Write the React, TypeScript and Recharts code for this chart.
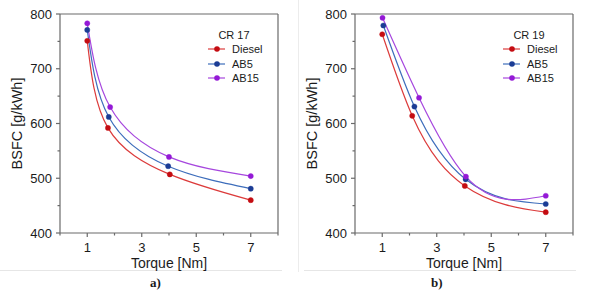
// BSFC vs torque at two compression ratios, side by side panels

import React from 'react';
import { Legend, Line, LineChart, ReferenceLine, XAxis, YAxis } from 'recharts';

const fuels = ['Diesel', 'AB5', 'AB15'];
const lineColors = ['#dc3b3b', '#3d6dbb', '#a647de'];
const dotColors = ['#c40c12', '#1b3c95', '#9419d6'];

// panel a) CR 17
const torqueA = [
  [1, 1.76, 4.03, 7],
  [1, 1.79, 3.97, 7],
  [1, 1.84, 4.0, 7],
];
const bsfcA = [
  [751, 592, 507, 460],
  [771, 612, 522, 481],
  [783, 630, 539, 504],
];

// panel b) CR 19
const torqueB = [
  [1, 2.1, 4.03, 7],
  [1.04, 2.18, 4.06, 7],
  [1.01, 2.35, 4.07, 7],
];
const bsfcB = [
  [763, 614, 486, 438],
  [779, 631, 498, 453],
  [793, 647, 503, 468],
];

const xTicks = [0, 1, 2, 3, 4, 5, 6, 7, 8];
const yTicks = [400, 450, 500, 550, 600, 650, 700, 750, 800];

const AXIS = '#6a6a6a';
const FONT = '"Liberation Sans", Arial, sans-serif';
const INK = '#1b1b1b';

// natural cubic spline of y over x (like the plotting program's "spline" connector)
function splineXY(context: any) {
  let xs: number[] = [];
  let ys: number[] = [];
  return {
    areaStart() {},
    areaEnd() {},
    lineStart() {
      xs = [];
      ys = [];
    },
    point(x: number, y: number) {
      xs.push(+x);
      ys.push(+y);
    },
    lineEnd() {
      const n = xs.length;
      if (!n) return;
      context.moveTo(xs[0], ys[0]);
      if (n < 3) {
        for (let i = 1; i < n; i++) context.lineTo(xs[i], ys[i]);
        return;
      }
      const h: number[] = [];
      for (let i = 0; i < n - 1; i++) h.push(xs[i + 1] - xs[i]);
      const a: number[] = [];
      const b: number[] = [];
      const c: number[] = [];
      const d: number[] = [];
      for (let i = 1; i < n - 1; i++) {
        a.push(h[i - 1]);
        b.push(2 * (h[i - 1] + h[i]));
        c.push(h[i]);
        d.push(6 * ((ys[i + 1] - ys[i]) / h[i] - (ys[i] - ys[i - 1]) / h[i - 1]));
      }
      const m = a.length;
      for (let i = 1; i < m; i++) {
        const w = a[i] / b[i - 1];
        b[i] -= w * c[i - 1];
        d[i] -= w * d[i - 1];
      }
      const sol = new Array(m).fill(0);
      sol[m - 1] = d[m - 1] / b[m - 1];
      for (let i = m - 2; i >= 0; i--) sol[i] = (d[i] - c[i] * sol[i + 1]) / b[i];
      const M = [0, ...sol, 0];
      for (let i = 0; i < n - 1; i++) {
        const s = (ys[i + 1] - ys[i]) / h[i];
        const d0 = s - (h[i] * (2 * M[i] + M[i + 1])) / 6;
        const d1 = s + (h[i] * (M[i] + 2 * M[i + 1])) / 6;
        context.bezierCurveTo(
          xs[i] + h[i] / 3,
          ys[i] + (d0 * h[i]) / 3,
          xs[i + 1] - h[i] / 3,
          ys[i + 1] - (d1 * h[i]) / 3,
          xs[i + 1],
          ys[i + 1],
        );
      }
    },
  };
}

function XTick({ x, y, payload }: any) {
  const major = payload.value % 2 === 1;
  return (
    <g>
      <line x1={x} x2={x} y1={y} y2={y + (major ? 4 : 2.5)} stroke={AXIS} strokeWidth={1.2} />
      {major && (
        <text x={x} y={y + 19} textAnchor="middle" fontSize={13} fontFamily={FONT} fill={INK}>
          {payload.value}
        </text>
      )}
    </g>
  );
}

function YTick({ x, y, payload }: any) {
  const major = payload.value % 100 === 0;
  return (
    <g>
      <line x1={x} x2={x - (major ? 4 : 2.5)} y1={y} y2={y} stroke={AXIS} strokeWidth={1.2} />
      {major && (
        <text x={x - 8} y={y + 4.6} textAnchor="end" fontSize={13} fontFamily={FONT} fill={INK}>
          {payload.value}
        </text>
      )}
    </g>
  );
}

function makeLegend(title: string) {
  return ({ payload }: any) => {
    const items = [...(payload ?? [])].sort(
      (p: any, q: any) => fuels.indexOf(p.value) - fuels.indexOf(q.value),
    );
    return (
      <div style={{ fontFamily: FONT, fontSize: 11, color: INK }}>
        <div style={{ width: 52, textAlign: 'center', lineHeight: '14px' }}>{title}</div>
        {items.map((p: any) => {
          const i = fuels.indexOf(p.value);
          return (
            <div key={p.value} style={{ display: 'flex', alignItems: 'center', height: 14.5 }}>
              <svg width={18} height={10} style={{ marginRight: 6 }}>
                <line x1={0} x2={17} y1={5} y2={5} stroke={lineColors[i]} strokeWidth={1.2} />
                <circle cx={9} cy={5} r={2.8} fill={dotColors[i]} />
              </svg>
              <span>{p.value}</span>
            </div>
          );
        })}
      </div>
    );
  };
}

function Panel({
  torque,
  bsfc,
  title,
  curve,
}: {
  torque: number[][];
  bsfc: number[][];
  title: string;
  curve: any;
}) {
  return (
    <LineChart width={295} height={297} margin={{ top: 14, right: 17, left: 0, bottom: 26 }}>
      <XAxis
        type="number"
        dataKey="t"
        domain={[0, 8]}
        ticks={xTicks}
        interval={0}
        tick={<XTick />}
        tickSize={0}
        tickMargin={0}
        tickLine={false}
        stroke={AXIS}
        strokeWidth={1.2}
        height={38}
        allowDuplicatedCategory={false}
        label={{
          value: 'Torque [Nm]',
          position: 'insideBottom',
          offset: 3,
          style: { fontSize: 14, fontFamily: FONT, fill: INK },
        }}
      />
      <YAxis
        type="number"
        domain={[400, 800]}
        ticks={yTicks}
        interval={0}
        tick={<YTick />}
        tickSize={0}
        tickMargin={0}
        tickLine={false}
        stroke={AXIS}
        strokeWidth={1.2}
        width={60}
        label={{
          value: 'BSFC [g/kWh]',
          angle: -90,
          position: 'insideLeft',
          offset: 17,
          style: { fontSize: 14.5, fontFamily: FONT, fill: INK, textAnchor: 'middle' },
        }}
      />
      <ReferenceLine y={800} stroke={AXIS} strokeWidth={1.2} />
      <ReferenceLine x={8} stroke={AXIS} strokeWidth={1.2} />
      {fuels.map((f, i) => (
        <Line
          key={f}
          name={f}
          data={torque[i].map((t, j) => ({ t, v: bsfc[i][j] }))}
          dataKey="v"
          type={curve}
          stroke={lineColors[i]}
          strokeWidth={1.2}
          dot={{ r: 2.6, fill: dotColors[i], stroke: dotColors[i], strokeWidth: 0.4 }}
          activeDot={false}
          isAnimationActive={false}
        />
      ))}
      <Legend
        layout="horizontal"
        align="center"
        verticalAlign="middle"
        content={makeLegend(title)}
        wrapperStyle={{ position: 'absolute', left: 208, top: 28, width: 80 }}
      />
    </LineChart>
  );
}

export default function App() {
  return (
    <div style={{ position: 'absolute', left: 0, top: 0, width: 590, height: 297, background: '#fff' }}>
      <div style={{ position: 'absolute', left: 0, top: 270, width: 282, height: 1, background: '#e6e6e6' }} />
      <div style={{ position: 'absolute', left: 304, top: 270, width: 272, height: 1, background: '#e6e6e6' }} />
      <div style={{ position: 'absolute', left: 298, top: 0, width: 1, height: 272, background: '#ececec' }} />
      <div style={{ position: 'absolute', left: 0, top: 0 }}>
        <Panel torque={torqueA} bsfc={bsfcA} title="CR 17" curve="natural" />
      </div>
      <div style={{ position: 'absolute', left: 295, top: 0 }}>
        <Panel torque={torqueB} bsfc={bsfcB} title="CR 19" curve={splineXY} />
      </div>
      <div
        style={{
          position: 'absolute',
          left: 150,
          top: 275,
          fontFamily: '"Liberation Serif", "Times New Roman", serif',
          fontWeight: 'bold',
          fontSize: 13,
          color: INK,
        }}
      >
        a)
      </div>
      <div
        style={{
          position: 'absolute',
          left: 431,
          top: 275,
          fontFamily: '"Liberation Serif", "Times New Roman", serif',
          fontWeight: 'bold',
          fontSize: 13,
          color: INK,
        }}
      >
        b)
      </div>
    </div>
  );
}
